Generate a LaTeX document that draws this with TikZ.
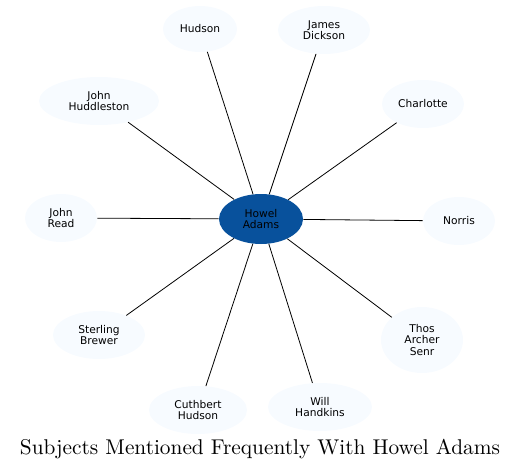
\documentclass[tikz,border=0pt]{standalone}
\usepackage{fontspec}
\usepackage{tikz}
\usetikzlibrary{shapes.geometric}
\newfontfamily\dejavu{DejaVu Sans}
\newfontfamily\titlefont{lmroman10-regular.otf}
\definecolor{hubblue}{HTML}{08519C}
\definecolor{leafblue}{HTML}{F7FBFF}

\begin{document}
\begin{tikzpicture}[x=0.75pt,y=-0.75pt,
  leaf/.style={ellipse,fill=leafblue,inner sep=0pt,align=center,
    minimum width=54pt,minimum height=36pt,
    font=\dejavu\fontsize{8}{8.6}\selectfont},
  hub/.style={leaf,fill=hubblue},
  link/.style={line width=0.6pt}]
  \useasboundingbox (0,0) rectangle (521,471);
  \node[hub,minimum width=63pt,minimum height=37.5pt] (HA) at (261,219) {Howel\\Adams};
  \node[leaf,minimum width=55.5pt,minimum height=34.5pt] (Hud) at (200,29) {Hudson};
  \node[leaf,minimum width=69pt] (JD) at (324,30) {James\\Dickson};
  \node[leaf,minimum width=90pt] (JH) at (99,101) {John\\Huddleston};
  \node[leaf,minimum width=61.5pt] (Cha) at (423,104) {Charlotte};
  \node[leaf] (JR) at (61,218) {John\\Read};
  \node[leaf] (Nor) at (459,221) {Norris};
  \node[leaf,minimum width=69pt] (SB) at (99,335) {Sterling\\Brewer};
  \node[leaf,minimum width=61.5pt,minimum height=49.5pt] (TAS) at (422,340) {Thos\\Archer\\Senr};
  \node[leaf,minimum width=73.5pt] (CH) at (198,410) {Cuthbert\\Hudson};
  \node[leaf,minimum width=78pt] (WH) at (320,407) {Will\\Handkins};
  \draw[link] (HA) -- (Hud); \draw[link] (HA) -- (JD);
  \draw[link] (HA) -- (JH); \draw[link] (HA) -- (Cha);
  \draw[link] (HA) -- (JR); \draw[link] (HA) -- (Nor);
  \draw[link] (HA) -- (SB); \draw[link] (HA) -- (TAS);
  \draw[link] (HA) -- (CH); \draw[link] (HA) -- (WH);
  \node[font=\titlefont\fontsize{16}{19}\selectfont] (title) at (260,449) {Subjects Mentioned Frequently With Howel Adams};
\end{tikzpicture}
\end{document}
